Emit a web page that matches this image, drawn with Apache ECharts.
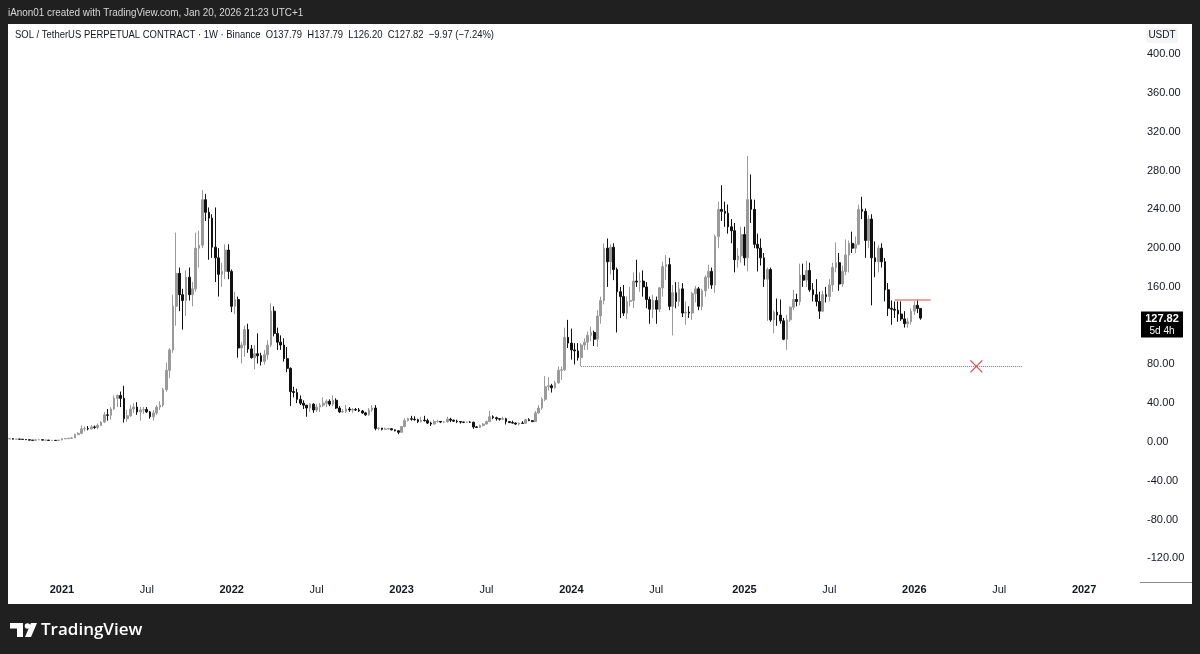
<!DOCTYPE html>
<html><head><meta charset="utf-8">
<script src="https://cdn.jsdelivr.net/npm/echarts@6/dist/echarts.min.js"></script>
<style>html,body{margin:0;padding:0;background:#202020}#c{width:1200px;height:654px}</style>
</head><body><div id="c"></div>
<script>
// ---- DATA (weekly candles, [open, close, low, high]) ----
const startWeek = '2020-09-14';
const totalWeeks = 346;
const weeks2020 = [[3.2,3.4,2.9,3.9],[3.4,2.9,2.6,3.5],[2.9,2.9,2.7,3.2],[2.9,2.8,2.6,3.2],[2.8,2.6,2.4,3.0],[2.6,2.3,2.1,2.7],[2.3,1.9,1.7,2.5],[1.9,1.7,1.2,2.0],[1.7,2.2,1.6,2.4],[2.2,2.3,2.0,2.7],[2.3,1.9,1.7,2.5],[1.9,1.9,1.7,2.2],[1.9,1.6,1.5,2.0],[1.6,1.7,1.4,1.8],[1.7,1.5,1.3,1.8],[1.5,2.0,1.4,2.1]];
const weeks2021 = [[2.0,3.3,1.8,3.8],[3.3,3.5,2.9,4.0],[3.5,3.8,2.8,4.2],[3.8,4.2,3.5,5.0],[4.2,7.7,4.0,8.5],[7.7,8.9,7.0,10.0],[8.9,13.5,8.0,17.0],[13.5,13.8,11.0,16.0],[13.8,13.5,12.0,16.5],[13.5,15.5,13.0,17.5],[15.5,15.0,13.5,17.0],[15.0,17.0,13.0,19.0],[17.0,20.5,16.5,21.5],[20.5,28.0,19.5,31.0],[28.0,27.5,22.0,34.0],[27.5,34.0,23.0,36.0],[34.0,45.0,33.0,48.0],[45.0,48.0,36.0,49.0],[48.0,45.0,36.0,52.0],[45.0,24.0,20.0,58.0],[24.0,27.0,21.0,33.0],[27.0,34.0,26.0,38.0],[34.0,36.0,30.0,40.0],[36.0,31.0,28.0,41.0],[31.0,33.0,22.0,36.0],[33.0,33.5,29.0,36.0],[33.5,31.0,30.0,36.0],[31.0,26.0,24.0,32.0],[26.0,30.0,22.0,33.0],[30.0,36.0,28.0,38.0],[36.0,38.0,33.0,42.0],[38.0,54.0,36.0,56.0],[54.0,74.0,52.0,82.0],[74.0,95.0,66.0,97.0],[95.0,140.0,92.0,152.0],[140.0,174.0,120.0,216.0],[174.0,152.0,135.0,180.0],[152.0,146.0,116.0,158.0],[146.0,170.0,130.0,177.0],[170.0,152.0,146.0,180.0],[152.0,158.0,140.0,165.0],[158.0,200.0,155.0,216.0],[200.0,203.0,180.0,218.0],[203.0,250.0,200.0,260.0],[250.0,237.0,228.0,256.0],[237.0,231.0,188.0,242.0],[231.0,201.0,190.0,235.0],[201.0,190.0,165.0,242.0],[190.0,173.0,150.0,200.0],[173.0,176.0,160.0,185.0],[176.0,198.0,168.0,204.0],[198.0,176.0,168.0,204.0]];
const weeks2022 = [[176,140,134,178],[140,147,132,155],[147,97,87,150],[97,100,81,103],[100,116,88,120],[116,96,92,122],[96,87,86,100],[87,91,75,100],[91,89,81,112],[89,83,79,92],[83,90,80,95],[90,100,85,105],[100,135,98,143],[135,112,109,140],[112,103,95,118],[103,100,95,110],[100,86,83,107],[86,76,72,98],[76,52,37,77],[52,51,46,57],[51,44,40,55],[44,40,38,48],[40,38,34,43],[38,35,26,38],[35,39,31,40],[39,33,30,40],[33,36,31,39],[36,38,31,40],[38,40,36,46],[40,42,36,44],[42,39,37,44],[39,43,37,48],[43,35,34,45],[35,31,30,37],[31,31.5,30,34],[31.5,34,30,38],[34,33,31,36],[33,33.5,30,35],[33.5,33,32,35],[33,32,31,35],[32,30,29,33],[30,28,27,31],[28,33,27,35],[33,35,31,38],[35,14,12,38],[14,14.3,12,15],[14.3,13,12,14.5],[13,13.5,12.5,14.8],[13.5,13.7,13,14.5],[13.7,12.5,12,14],[12.5,11.5,11,12.8],[11.5,10,8,12]];
const weeks2023 = [[10,16,9.5,16.5],[16,22,15,24.5],[22,24,21,25],[24,23.5,22,27],[23.5,23,22,26.5],[23,21,19.5,24],[21,22.5,20,26],[22.5,22,21,27],[22,19.5,18.5,24],[19.5,18.5,16.5,21],[18.5,21,18,23],[21,21.2,20,23],[21.2,20.5,19.5,21.5],[20.5,20.7,19.5,21.5],[20.7,23.5,20,26],[23.5,22.5,20.5,25],[22.5,21.5,20.5,23],[21.5,21,19.5,23],[21,20.5,19,21.5],[20.5,20.3,19.5,21],[20.3,20.5,19.8,21],[20.5,20.3,19.5,21.5],[20.3,15.5,13.5,21],[15.5,15,14.5,16.5],[15,17,14.5,18],[17,18.5,16,19.5],[18.5,21,18,22],[21,26,20.5,32],[26,25,23.5,27.5],[25,24,22,26],[24,23.5,22,24.5],[23.5,24,22.5,26],[24,21,18,25],[21,20,19.5,21.5],[20,19.5,19,22],[19.5,18.5,17.5,20],[18.5,19.5,17,20],[19.5,19.2,18.5,21.5],[19.2,23,19,24],[23,22,21.5,24.5],[22,21,20.5,22.5],[21,30,21,32],[30,35,29,38],[35,44,33,46],[44,57,42,68],[57,58,53,67],[58,56,51,60],[56,61,55,63],[61,74,60,78],[74,74.5,64,78],[74.5,108,73,118],[108,102,97,126]];
const weeks2024 = [[102,95,85,117],[95,94,80,102],[94,87,84,102],[87,100,78,102],[100,103,95,107],[103,110,95,114],[110,113,104,119],[113,106,99,115],[106,130,98,136],[130,146,122,150],[146,200,142,205],[200,186,160,210],[186,201,173,204],[201,178,167,205],[178,155,113,180],[155,150,128,160],[150,133,130,162],[133,145,127,150],[145,146,140,160],[146,166,138,175],[166,165,160,188],[165,166,155,175],[166,160,150,177],[160,147,138,165],[147,137,122,150],[137,146,128,152],[146,137,122,150],[137,159,134,160],[159,181,150,186],[181,183,167,193],[183,140,136,190],[140,154,110,162],[154,145,138,165],[145,158,140,165],[158,133,129,164],[133,134,121,145],[134,133,128,140],[133,153,126,155],[153,158,144,161],[158,140,136,160],[140,156,136,158],[156,170,150,172],[170,176,158,183],[176,162,158,180],[162,212,154,214],[212,240,200,248],[240,238,228,265],[238,236,222,248],[236,222,215,245],[222,218,205,230],[218,188,175,226],[188,192,180,200],[192,214,185,222]];
const weeks2025 = [[214,190,182,222],[190,250,176,295],[250,240,226,276],[240,204,200,250],[204,200,176,215],[200,190,182,210],[190,168,160,195],[168,178,125,180],[178,126,124,180],[126,134,112,136],[134,131,120,148],[131,125,122,147],[125,106,105,128],[106,126,95,131],[126,139,124,140],[139,147,136,157],[147,145,140,153],[145,172,141,184],[172,167,160,184],[167,177,160,187],[177,157,155,185],[157,152,145,164],[152,145,140,168],[145,135,127,155],[135,152,134,156],[152,150,144,160],[150,162,145,168],[162,180,155,185],[180,185,175,206],[185,163,156,195],[163,176,160,182],[176,193,172,209],[193,205,175,208],[205,200,195,217],[200,204,195,212],[204,240,203,245],[240,238,230,253],[238,208,190,241],[208,230,200,234],[230,190,141,235],[190,186,170,207],[186,200,175,203],[200,186,180,205],[186,157,145,190],[157,138,130,164],[138,137,121,146],[137,136,128,145],[136,132,124,145],[132,127,125,145],[127,122,118,135],[122,124,118,128],[124,135,121,138]];
const weeks2026 = [[135,141,131,145],[141,137.79,133,147],[137.79,127.82,126.20,137.79]];
const yTickMin = -160, yTickMax = 440, yTickStep = 40;
const supportLevel = 78;       // dotted horizontal line
const supportFrom = 175, supportTo = 310;
const resistanceLevel = 147;   // red horizontal line
const resistanceFrom = 271, resistanceTo = 282;
const crossWeek = 296;         // red X marker
const lastPrice = 127.82;
const headerTop = 'iAnon01 created with TradingView.com, Jan 20, 2026 21:23 UTC+1';
const headerLegend = 'SOL / TetherUS PERPETUAL CONTRACT · 1W · Binance  O137.79  H137.79  L126.20  C127.82  −9.97 (−7.24%)';
const countdown = '5d 4h';

// ---- BUILD ----
const ohlc = [].concat(weeks2020, weeks2021, weeks2022, weeks2023, weeks2024, weeks2025, weeks2026);
const cats = [];
const labelText = {};
const s = new Date(startWeek + 'T00:00:00Z');
for (let i = 0; i < totalWeeks; i++) {
  const d = new Date(s.getTime() + i * 7 * 86400000);
  const key = d.toISOString().slice(0, 10);
  cats.push(key);
  if (d.getUTCDate() <= 7) {
    const m = d.getUTCMonth();
    if (m === 0) labelText[key] = '{y|' + d.getUTCFullYear() + '}';
    else if (m === 6) labelText[key] = '{m|Jul}';
  }
}

const FONT = 'Liberation Sans, Arial, sans-serif';
const chart = echarts.init(document.getElementById('c'), null, {renderer: 'canvas', width: 1200, height: 654});
const UP = '#9a9a9a', DOWN = '#111111';

const option = {
  animation: false,
  backgroundColor: '#202020',
  grid: {left: 8, right: 62, top: 15.6, bottom: 57},
  xAxis: {
    type: 'category', data: cats, boundaryGap: true,
    axisLine: {show: false}, axisTick: {show: false}, splitLine: {show: false},
    offset: -17,
    axisLabel: {
      margin: 4,
      interval: (idx, val) => labelText[val] !== undefined,
      formatter: (val) => labelText[val] || '',
      rich: {
        y: {fontFamily: FONT, fontSize: 11, fontWeight: 'bold', color: '#131722'},
        m: {fontFamily: FONT, fontSize: 11, color: '#131722'}
      }
    }
  },
  yAxis: {
    type: 'value', position: 'right', min: yTickMin, max: yTickMax, interval: yTickStep,
    axisLine: {show: false}, axisTick: {show: false}, splitLine: {show: false},
    axisLabel: {
      margin: 9, showMinLabel: false, showMaxLabel: false,
      fontFamily: FONT, fontSize: 11, color: '#131722',
      formatter: v => v.toFixed(2)
    }
  },
  series: [{
    type: 'candlestick',
    data: ohlc,
    barWidth: 2.2,
    itemStyle: {color: UP, color0: DOWN, borderColor: UP, borderColor0: DOWN, borderWidth: 1},
    markLine: {
      silent: true, symbol: ['none', 'none'], label: {show: false},
      data: [
        [{coord: [cats[supportFrom], supportLevel], lineStyle: {color: '#7a7a7a', width: 1, type: 'dotted'}},
         {coord: [cats[supportTo], supportLevel]}],
        [{coord: [cats[resistanceFrom], resistanceLevel], lineStyle: {color: '#e98585', width: 1.5, type: 'solid'}},
         {coord: [cats[resistanceTo], resistanceLevel]}]
      ]
    },
    markPoint: {
      silent: true, label: {show: false},
      data: [{
        coord: [cats[crossWeek], supportLevel],
        symbol: 'path://M0,0L10,10M10,0L0,10', symbolSize: 12,
        itemStyle: {color: 'none', borderColor: '#e0525a', borderWidth: 1.4}
      }]
    }
  }],
  graphic: [
    {type: 'rect', z: -10, silent: true, shape: {x: 8, y: 24, width: 1184, height: 580}, style: {fill: '#ffffff'}},
    {type: 'line', z: 1, silent: true, shape: {x1: 1140, y1: 582.5, x2: 1192, y2: 582.5}, style: {stroke: '#8a8a8a', lineWidth: 1}},
    {type: 'text', z: 5, x: 8, y: 13, scaleX: 0.9, style: {text: headerTop, fill: '#d8d8d8', font: '11px ' + FONT, textVerticalAlign: 'middle'}},
    {type: 'text', z: 5, x: 15, y: 35, scaleX: 0.86, style: {text: headerLegend, fill: '#131722', font: '11px ' + FONT, textVerticalAlign: 'middle'}},
    {type: 'rect', z: 5, shape: {x: 1146, y: 28, width: 32, height: 15, r: 3}, style: {fill: '#f4f4f4'}},
    {type: 'text', z: 6, x: 1162, y: 35.5, style: {text: 'USDT', fill: '#131722', font: '10px ' + FONT, textAlign: 'center', textVerticalAlign: 'middle'}},
    // TradingView logo
    {type: 'polygon', z: 5, shape: {points: [[10,623],[23,623],[23,637],[17,637],[17,628.5],[10,628.5]]}, style: {fill: '#ffffff'}},
    {type: 'circle', z: 5, shape: {cx: 27.5, cy: 626, r: 2.8}, style: {fill: '#ffffff'}},
    {type: 'polygon', z: 5, shape: {points: [[31,623],[37,623],[31,637],[25,637]]}, style: {fill: '#ffffff'}},
    {type: 'text', z: 5, x: 41, y: 630, style: {text: 'TradingView', fill: '#ffffff', font: '600 17px "Open Sans", ' + FONT, textVerticalAlign: 'middle'}}
  ]
};
chart.setOption(option);

const py = chart.convertToPixel({yAxisIndex: 0}, lastPrice);
chart.setOption({graphic: option.graphic.concat([
  {type: 'rect', z: 8, shape: {x: 1141, y: py - 6.5, width: 42, height: 26}, style: {fill: '#000000'}},
  {type: 'text', z: 9, x: 1162, y: py + 1, style: {text: lastPrice.toFixed(2), fill: '#ffffff', font: 'bold 11px ' + FONT, textAlign: 'center', textVerticalAlign: 'middle'}},
  {type: 'text', z: 9, x: 1162, y: py + 13.5, style: {text: countdown, fill: '#ffffff', font: '10px ' + FONT, textAlign: 'center', textVerticalAlign: 'middle'}}
])});
</script>
</body></html>
